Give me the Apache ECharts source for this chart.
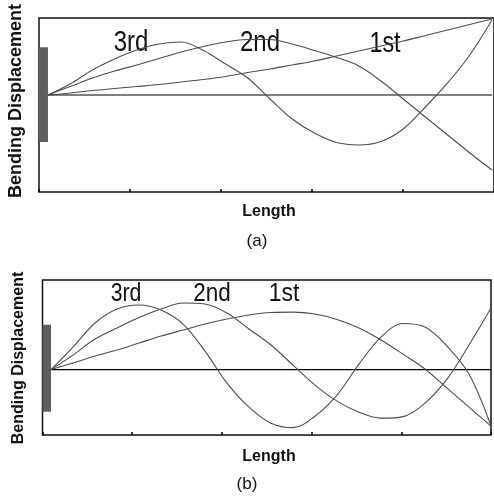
<!DOCTYPE html>
<html>
<head>
<meta charset="utf-8">
<script src="https://cdn.jsdelivr.net/npm/echarts@6/dist/echarts.min.js"></script>
<style>
  html, body { margin: 0; padding: 0; background: #fff; }
  #chart { width: 494px; height: 500px; }
</style>
</head>
<body>
<div id="chart"></div>
<script>
// Position along the beam (fraction of length, clamp at 0, free end at 1)
const lengthPts = [0, 0.05, 0.1, 0.15, 0.2, 0.25, 0.3, 0.35, 0.4, 0.45, 0.5,
                   0.55, 0.6, 0.65, 0.7, 0.75, 0.8, 0.85, 0.9, 0.95, 1.0];

// Panel (a) mode shapes (relative bending displacement)
const modeA1 = [0, 0.026, 0.058, 0.084, 0.110, 0.136, 0.169, 0.201, 0.240, 0.292, 0.338,
                0.390, 0.442, 0.506, 0.571, 0.636, 0.701, 0.773, 0.844, 0.916, 0.987];
const modeA2 = [0, 0.110, 0.221, 0.312, 0.390, 0.474, 0.558, 0.630, 0.688, 0.721, 0.721,
                0.662, 0.578, 0.487, 0.377, 0.182, -0.052, -0.286, -0.519, -0.753, -0.974];
const modeA3 = [0, 0.143, 0.325, 0.468, 0.584, 0.662, 0.688, 0.578, 0.403, 0.221, -0.052,
                -0.312, -0.494, -0.617, -0.649, -0.604, -0.442, -0.156, 0.156, 0.519, 0.974];

// Panel (b) mode shapes
const modeB1 = [0, 0.073, 0.151, 0.218, 0.296, 0.374, 0.441, 0.508, 0.564, 0.609, 0.637,
                0.642, 0.620, 0.559, 0.464, 0.330, 0.173, 0.006, -0.207, -0.419, -0.631];
const modeB2 = [0, 0.162, 0.341, 0.464, 0.581, 0.676, 0.743, 0.732, 0.631, 0.453, 0.274,
                0.050, -0.173, -0.352, -0.475, -0.542, -0.525, -0.374, -0.106, 0.274, 0.687];
const modeB3 = [0, 0.251, 0.520, 0.676, 0.721, 0.665, 0.508, 0.207, -0.151, -0.419, -0.598,
                -0.648, -0.520, -0.285, 0.061, 0.363, 0.514, 0.475, 0.263, -0.050, -0.631];

// Baseline (undeformed beam)
const baselineX = [0, 1];
const baselineY = [0, 0];

// Clamp extent (in displacement units) for each panel
const clampA = [-0.61, 0.62];
const clampB = [-0.47, 0.50];

// Text
const modeLabels = ['3rd', '2nd', '1st'];
const yTitle = 'Bending Displacement';
const xTitle = 'Length';
const panelTags = ['(a)', '(b)'];

const pair = (xs, ys) => xs.map((x, i) => [x, ys[i]]);

const curveStyle = { color: '#4d4d4d', width: 1.1 };

function modeSeries(idx, data) {
  return {
    type: 'line', xAxisIndex: idx * 2, yAxisIndex: idx,
    data: pair(lengthPts, data), smooth: 0.35, symbol: 'none',
    lineStyle: curveStyle, silent: true, animation: false
  };
}

function baseSeries(idx, clamp, xmin) {
  return {
    type: 'line', xAxisIndex: idx * 2, yAxisIndex: idx,
    data: pair(baselineX, baselineY), symbol: 'none',
    lineStyle: { color: '#000', width: 1.2 }, silent: true, animation: false,
    markArea: {
      silent: true,
      itemStyle: { color: '#5e5e5e' },
      data: [[{ xAxis: xmin, yAxis: clamp[1] }, { xAxis: 0, yAxis: clamp[0] }]]
    }
  };
}

const xMinA = -0.0202, xMaxA = 1.0045;
const xMinB = -0.0193, xMaxB = 1.0;

const tickAxis = (g) => ({
  gridIndex: g, type: 'value', position: 'bottom', min: 0, max: 1, interval: 0.2,
  axisLine: { show: false },
  axisTick: { show: true, inside: true, length: 3, lineStyle: { color: '#000', width: 1.5 } },
  axisLabel: { show: false }, splitLine: { show: false }
});

const chart = echarts.init(document.getElementById('chart'), null, { renderer: 'canvas' });

const labelFontA = { fontFamily: '"Liberation Sans", Arial, sans-serif', fontSize: 30, fill: '#111' };
const labelFontB = { fontFamily: '"Liberation Sans", Arial, sans-serif', fontSize: 25, fill: '#111' };

function txt(x, y, text, style, rotation, sx) {
  return {
    type: 'text', x: x, y: y, rotation: rotation || 0, scaleX: sx || 1, silent: true,
    style: Object.assign({ text: text, textAlign: 'center', textVerticalAlign: 'middle' }, style)
  };
}

const sansBold = (size) => ({ fontFamily: '"Liberation Sans", Arial, sans-serif', fontWeight: 'bold', fontSize: size, fill: '#111' });
const sansReg = (size) => ({ fontFamily: '"Liberation Sans", Arial, sans-serif', fontSize: size, fill: '#111' });

chart.setOption({
  animation: false,
  backgroundColor: '#fff',
  grid: [
    { left: 39, top: 18, width: 456, height: 174, show: true, borderColor: '#111', borderWidth: 1.5, backgroundColor: 'transparent' },
    { left: 42.5, top: 280, width: 448.5, height: 155, show: true, borderColor: '#111', borderWidth: 1.5, backgroundColor: 'transparent' }
  ],
  xAxis: [
    { gridIndex: 0, type: 'value', min: xMinA, max: xMaxA, show: false },
    tickAxis(0),
    { gridIndex: 1, type: 'value', min: xMinB, max: xMaxB, show: false },
    tickAxis(1)
  ],
  yAxis: [
    { gridIndex: 0, type: 'value', min: -1.26, max: 1, show: false, splitLine: { show: false } },
    { gridIndex: 1, type: 'value', min: -0.73, max: 1, show: false, splitLine: { show: false } }
  ],
  series: [
    baseSeries(0, clampA, xMinA),
    modeSeries(0, modeA1), modeSeries(0, modeA2), modeSeries(0, modeA3),
    baseSeries(1, clampB, xMinB),
    modeSeries(1, modeB1), modeSeries(1, modeB2), modeSeries(1, modeB3)
  ],
  graphic: [
    txt(131, 43, modeLabels[0], labelFontA, 0, 0.8),
    txt(260, 43, modeLabels[1], labelFontA, 0, 0.8),
    txt(385, 44, modeLabels[2], labelFontA, 0, 0.78),
    txt(126, 294, modeLabels[0], labelFontB, 0, 0.85),
    txt(212, 294, modeLabels[1], labelFontB, 0, 0.9),
    txt(284, 294, modeLabels[2], labelFontB, 0, 0.92),
    txt(16, 101, yTitle, sansBold(18), Math.PI / 2),
    txt(19, 358, yTitle, sansBold(16), Math.PI / 2),
    txt(269, 212, xTitle, sansBold(16)),
    txt(269, 457, xTitle, sansBold(16)),
    txt(257, 241, panelTags[0], sansReg(17)),
    txt(247, 484, panelTags[1], sansReg(17))
  ]
});
</script>
</body>
</html>
